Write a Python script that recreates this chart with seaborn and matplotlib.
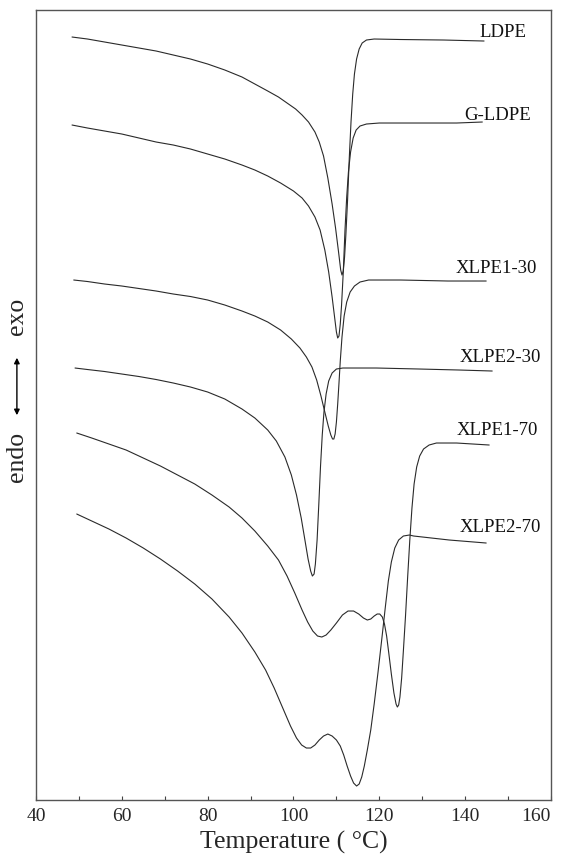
import pandas as pd
import matplotlib
matplotlib.use('Agg')
import matplotlib.pyplot as plt
import seaborn as sns
from matplotlib.ticker import MultipleLocator

# curvas de DSC (temperatura em °C, fluxo de calor em unidades arbitrarias)
ldpe_t = [48.4, 52, 56, 60, 64, 68, 72, 76, 80, 84, 88, 91, 94, 96.5, 98.5, 100.5, 102, 103.5, 105,
          106, 107, 108, 109, 109.8, 110.5, 111.0, 111.3, 111.6, 111.9, 112.2, 112.6, 113.0, 113.4,
          113.8, 114.2, 114.7, 115.3, 116.0, 117.0, 118.8, 125, 135, 144.4]
ldpe_h = [76.3, 76.1, 75.8, 75.5, 75.2, 74.9, 74.5, 74.1, 73.6, 73.0, 72.3, 71.6, 70.9, 70.3, 69.7,
          69.1, 68.5, 67.8, 66.8, 65.8, 64.4, 62.2, 59.6, 57.2, 54.8, 53.0, 52.5, 52.9, 54.3, 56.5,
          60.0, 64.2, 67.8, 70.6, 72.6, 74.1, 75.1, 75.7, 76.0, 76.1, 76.05, 76.0, 75.9]

gldpe_t = [48.4, 52, 56, 60, 64, 68, 72, 76, 80, 84, 88, 91, 94, 97, 100, 102, 103.5, 105, 106.2,
           107.3, 108.2, 109.0, 109.6, 110.0, 110.3, 110.6, 110.9, 111.2, 111.6, 112.0, 112.4, 112.8,
           113.3, 113.9, 114.6, 115.5, 117, 120, 130, 138, 144]
gldpe_h = [67.5, 67.2, 66.9, 66.6, 66.2, 65.8, 65.5, 65.1, 64.6, 64.1, 63.5, 63.0, 62.4, 61.7, 60.9,
           60.2, 59.4, 58.3, 57.0, 55.0, 52.8, 50.3, 48.2, 46.8, 46.2, 46.4, 47.6, 49.5, 52.8, 57.0,
           60.3, 62.8, 64.8, 66.2, 67.0, 67.4, 67.6, 67.7, 67.7, 67.7, 67.8]

x130_t = [48.8, 52, 56, 60, 64, 68, 72, 76, 80, 84, 88, 91, 94, 97, 99.5, 101.5, 103, 104.3, 105.4,
          106.4, 107.3, 108.1, 108.7, 109.1, 109.4, 109.7, 110.0, 110.3, 110.6, 110.9, 111.3, 111.8,
          112.4, 113.2, 114.2, 115.5, 117.5, 125, 136, 144.9]
x130_h = [52.0, 51.85, 51.6, 51.4, 51.15, 50.9, 50.6, 50.35, 50.0, 49.5, 48.9, 48.4, 47.8, 47.0, 46.1,
          45.2, 44.3, 43.3, 42.0, 40.4, 38.8, 37.4, 36.5, 36.1, 36.1, 36.6, 37.8, 39.6, 41.7, 43.9,
          46.3, 48.4, 49.8, 50.8, 51.4, 51.8, 52.0, 52.0, 51.9, 51.9]

x230_t = [49.1, 52, 56, 60, 64, 68, 72, 76, 80, 84, 88, 91, 94, 96, 98, 99.5, 100.7, 101.8, 102.7,
          103.4, 104.0, 104.4, 104.8, 105.1, 105.5, 105.9, 106.3, 106.7, 107.1, 107.6, 108.2, 109.0,
          110.0, 111.5, 119.3, 129.3, 138.6, 146.3]
x230_h = [43.2, 43.05, 42.85, 42.6, 42.35, 42.05, 41.7, 41.3, 40.8, 40.1, 39.1, 38.2, 37.0, 35.9,
          34.3, 32.5, 30.5, 28.2, 25.9, 24.1, 22.9, 22.4, 22.6, 23.6, 26.0, 29.6, 33.4, 36.5, 38.8,
          40.6, 41.9, 42.7, 43.1, 43.2, 43.2, 43.1, 43.0, 42.9]

x170_t = [49.5, 53, 57, 61, 65, 69, 73, 77, 81, 85, 88, 91, 94, 96.5, 98.5, 100.3, 102, 103.3, 104.5,
          105.6, 106.6, 107.6, 108.7, 110, 111.4, 112.7, 114.0, 115.2, 116.3, 117.2, 118.0, 118.8,
          119.5, 120.1, 120.7, 121.2, 121.7, 122.2, 122.8, 123.4, 123.9, 124.2, 124.5, 124.8, 125.2,
          125.6, 126.1, 126.6, 127.1, 127.6, 128.1, 128.7, 129.4, 130.3, 131.6, 133.3, 138, 145.6]
x170_h = [36.7, 36.2, 35.6, 35.0, 34.2, 33.4, 32.5, 31.6, 30.5, 29.3, 28.2, 26.9, 25.4, 24.0, 22.4,
          20.7, 19.0, 17.8, 16.9, 16.4, 16.3, 16.5, 17.0, 17.7, 18.5, 18.9, 18.9, 18.6, 18.2, 18.0,
          18.1, 18.4, 18.6, 18.6, 18.3, 17.6, 16.4, 14.7, 12.6, 10.7, 9.6, 9.3, 9.5, 10.3, 12.2,
          14.9, 18.4, 22.3, 26.0, 29.2, 31.6, 33.3, 34.4, 35.1, 35.5, 35.7, 35.7, 35.5]

x270_t = [49.5, 53, 57, 61, 65, 69, 73, 77, 81, 85, 88, 91, 93.5, 95.5, 97.5, 99.3, 100.7, 101.9,
          103.0, 104.0, 105.0, 106.0, 107.0, 108.0, 109.0, 110.0, 110.9, 111.7, 112.5, 113.3, 114.0,
          114.7, 115.3, 115.9, 116.5, 117.2, 118.0, 118.8, 119.7, 120.6, 121.4, 122.1, 122.8, 123.6,
          124.5, 125.6, 127.0, 128.0, 136.3, 144.9]
x270_h = [28.6, 27.9, 27.1, 26.2, 25.2, 24.1, 22.9, 21.6, 20.1, 18.3, 16.7, 14.8, 13.0, 11.2, 9.2,
          7.4, 6.2, 5.5, 5.2, 5.2, 5.5, 6.0, 6.4, 6.6, 6.4, 6.0, 5.4, 4.5, 3.4, 2.4, 1.7,
          1.4, 1.6, 2.3, 3.4, 5.0, 7.0, 9.6, 12.8, 16.2, 19.3, 21.9, 23.8, 25.2,
          26.0, 26.4, 26.5, 26.4, 26.0, 25.7]

amostras = ['LDPE', 'G-LDPE', 'XLPE1-30', 'XLPE2-30', 'XLPE1-70', 'XLPE2-70']
curvas = [(ldpe_t, ldpe_h), (gldpe_t, gldpe_h), (x130_t, x130_h),
          (x230_t, x230_h), (x170_t, x170_h), (x270_t, x270_h)]

# posicao dos rotulos (T, h) ao lado de cada curva
rotulo_pos = [(143.3, 76.8), (139.8, 68.5), (137.7, 53.2), (138.6, 44.3), (138.1, 37.0), (138.6, 27.3)]

# dataframe longo pro seaborn
df = pd.concat([
    pd.DataFrame({'T': t, 'h': h, 'amostra': nome})
    for nome, (t, h) in zip(amostras, curvas)
], ignore_index=True)

sns.set_theme(style='white')
plt.rcParams['font.family'] = ['Liberation Serif', 'DejaVu Serif']

fig = plt.figure(figsize=(5.63, 8.56), dpi=100)
ax = fig.add_axes([0.0639, 0.0654, 0.9148, 0.9229])

sns.lineplot(
    data=df, x='T', y='h', hue='amostra', units='amostra', estimator=None,
    palette=['#2a2a2a'] * len(amostras), linewidth=0.8, sort=False, legend=False, ax=ax
)

for nome, (tx, hy) in zip(amostras, rotulo_pos):
    ax.text(tx, hy, nome, fontsize=13.5, ha='left', va='center', color='#111111')

ax.set_xlim(40, 160)
ax.set_ylim(0, 79)
ax.xaxis.set_major_locator(MultipleLocator(20))
ax.xaxis.set_minor_locator(MultipleLocator(10))
ax.tick_params(axis='x', which='both', direction='in', bottom=True, top=False,
               length=3, width=0.8, color='#444444', labelsize=14, pad=6)
ax.set_yticks([])
for s in ax.spines.values():
    s.set_color('#555555')
    s.set_linewidth(1.0)

ax.set_xlabel('Temperature ( °C)', fontsize=18.5, labelpad=4)
ax.set_ylabel('')

# o ultimo rotulo (160) fica alinhado a direita pra nao sair da figura
fig.canvas.draw()
ultimo = [lb for lb in ax.get_xticklabels() if lb.get_text() == '160']
for lb in ultimo:
    lb.set_horizontalalignment('right')

# rotulo vertical: endo <-> exo
fig.text(0.030, 0.6308, 'exo', rotation=90, fontsize=18.5, ha='center', va='center')
fig.text(0.030, 0.466, 'endo', rotation=90, fontsize=18.5, ha='center', va='center')
ax.annotate('', xy=(0.030, 0.5853), xytext=(0.030, 0.5117), xycoords='figure fraction',
            textcoords='figure fraction',
            arrowprops=dict(arrowstyle='<|-|>', color='black', lw=1.0, mutation_scale=8))

fig.savefig('out.png', dpi=100)
